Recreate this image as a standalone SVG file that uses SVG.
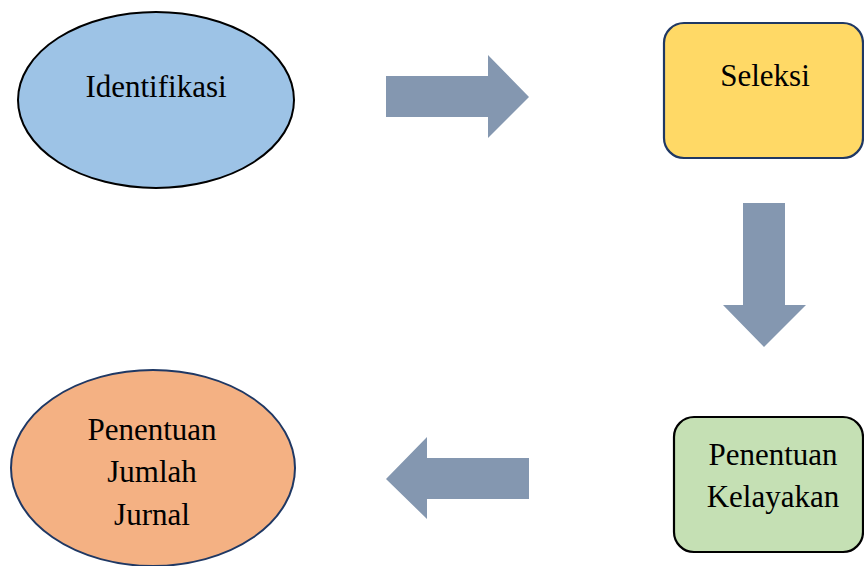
<svg xmlns="http://www.w3.org/2000/svg" width="864" height="566" viewBox="0 0 864 566">
<style>
text{font-family:"Liberation Serif","Times New Roman",serif;font-size:31px;fill:#000;text-anchor:middle}
.arrow{fill:#8497B0}
</style>
<rect width="864" height="566" fill="#fff"/>
<g id="connectors">
<polygon class="arrow" points="386,76 488,76 488,55 529,97 488,138 488,117 386,117"/>
<polygon class="arrow" points="743,203 785,203 785,305 806,305 764,347 723,305 743,305"/>
<polygon class="arrow" points="529,458 427,458 427,437 386,479 427,519 427,499 529,499"/>
</g>
<g id="identifikasi">
<ellipse cx="156" cy="100" rx="138" ry="88" fill="#9DC3E6" stroke="#000" stroke-width="2"/>
<text x="156" y="97">Identifikasi</text>
</g>
<g id="seleksi">
<rect x="664" y="23" width="199" height="135" rx="20" fill="#FFD966" stroke="#1F3864" stroke-width="2.2"/>
<text x="765" y="86">Seleksi</text>
</g>
<g id="kelayakan">
<rect x="674" y="417" width="189" height="135" rx="20" fill="#C5E0B4" stroke="#000" stroke-width="2.2"/>
<text x="773" y="465">Penentuan</text>
<text x="773" y="507">Kelayakan</text>
</g>
<g id="jumlah">
<ellipse cx="153" cy="468" rx="142" ry="98" fill="#F4B183" stroke="#1F3864" stroke-width="2"/>
<text x="152" y="440">Penentuan</text>
<text x="152" y="482">Jumlah</text>
<text x="152" y="525">Jurnal</text>
</g>
</svg>
